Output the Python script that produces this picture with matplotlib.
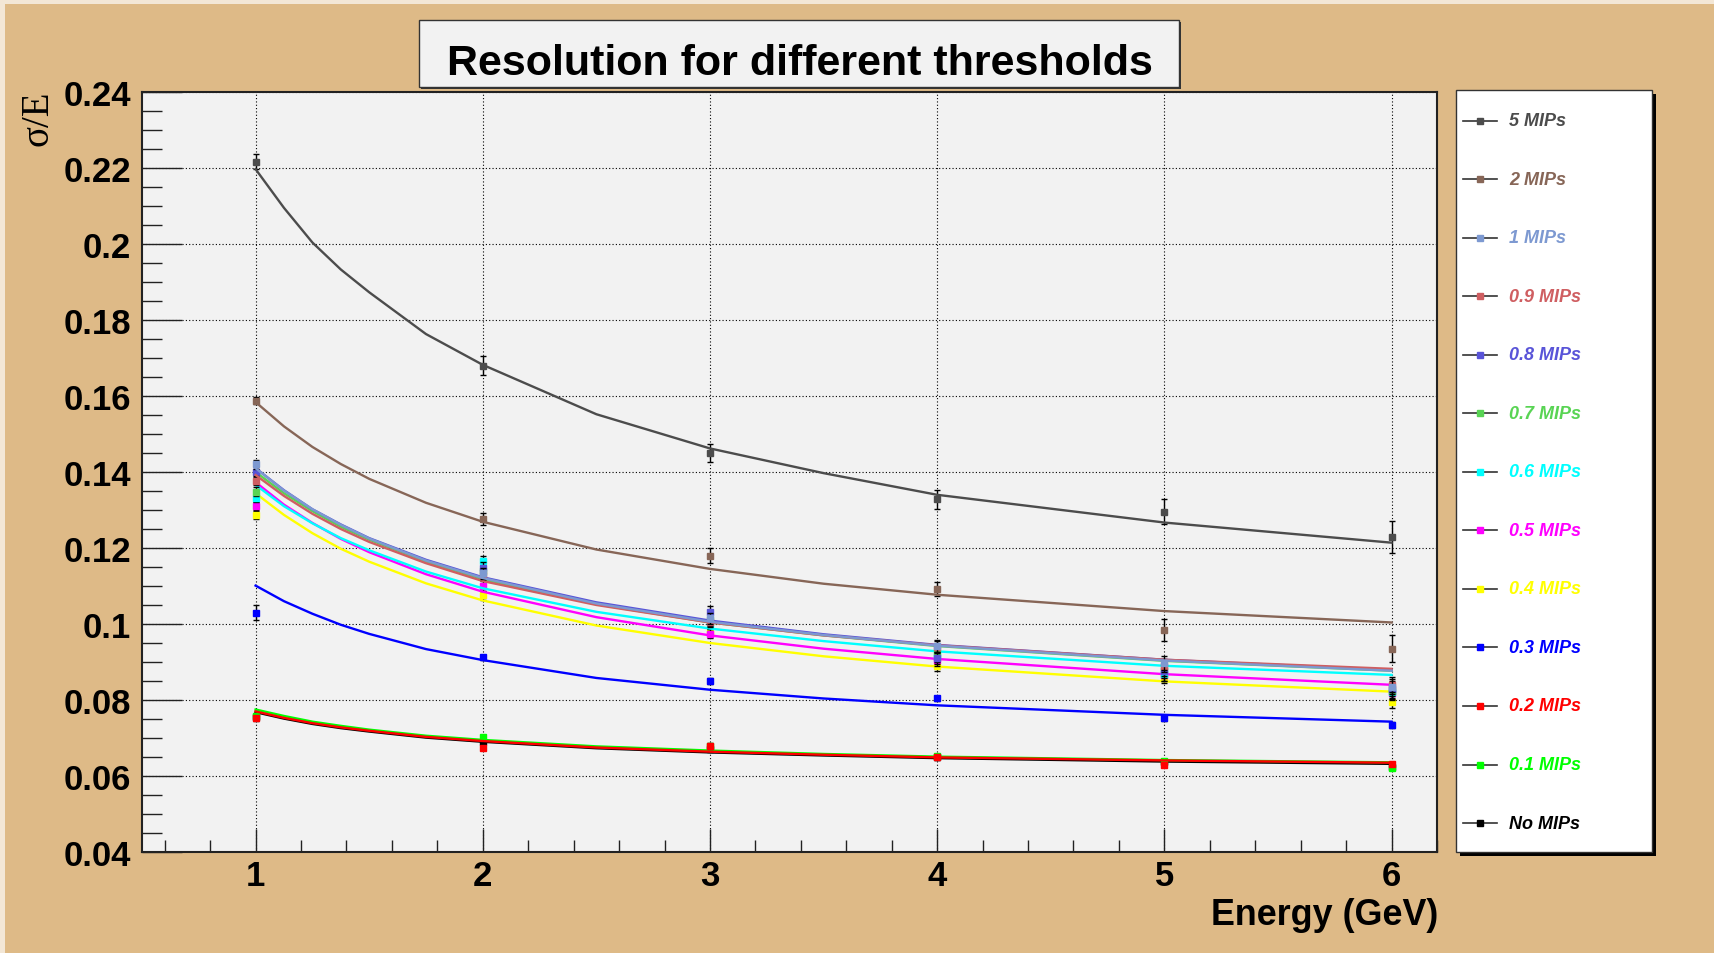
import matplotlib
matplotlib.use("Agg")
import matplotlib.pyplot as plt
from matplotlib.lines import Line2D
from matplotlib.patches import Rectangle
from matplotlib.ticker import MultipleLocator, FuncFormatter

plt.rcParams['font.family'] = ['Liberation Sans', 'DejaVu Sans']
plt.rcParams['font.weight'] = 'bold'

# beam energies (GeV) of the measured points
energy = [1, 2, 3, 4, 5, 6]
fit_e = [1.0, 1.125, 1.25, 1.375, 1.5, 1.75, 2.0, 2.5, 3.0, 3.5, 4.0, 5.0, 6.0]

# sigma/E per threshold: measured points, errors, fitted curve
sig_5 = [0.2217, 0.1680, 0.1451, 0.1328, 0.1295, 0.1228]
err_5 = [0.0019, 0.0025, 0.0024, 0.0025, 0.0033, 0.0042]
fit_5 = [0.2197, 0.2095, 0.2004, 0.1933, 0.1873, 0.1763, 0.1682, 0.1552, 0.1462, 0.1397, 0.1340, 0.1267, 0.1214]

sig_2 = [0.1588, 0.1276, 0.1180, 0.1092, 0.0984, 0.0935]
err_2 = [0.0010, 0.0016, 0.0020, 0.0019, 0.0030, 0.0035]
fit_2 = [0.1584, 0.1520, 0.1466, 0.1421, 0.1382, 0.1319, 0.1269, 0.1196, 0.1145, 0.1106, 0.1077, 0.1034, 0.1004]

sig_1 = [0.1420, 0.1133, 0.1015, 0.0942, 0.0898, 0.0835]
err_1 = [0.0012, 0.0015, 0.0015, 0.0015, 0.0018, 0.0020]
fit_1 = [0.1410, 0.1351, 0.1302, 0.1261, 0.1225, 0.1167, 0.1121, 0.1054, 0.1006, 0.0971, 0.0943, 0.0904, 0.0877]

sig_09 = [0.1377, 0.1130, 0.1005, 0.0940, 0.0890, 0.0840]
err_09 = [0.0012, 0.0013, 0.0014, 0.0015, 0.0017, 0.0020]
fit_09 = [0.1392, 0.1337, 0.1290, 0.1250, 0.1216, 0.1160, 0.1113, 0.1050, 0.1004, 0.0970, 0.0944, 0.0906, 0.0882]

sig_08 = [0.1400, 0.1148, 0.1032, 0.0910, 0.0877, 0.0830]
err_08 = [0.0012, 0.0014, 0.0015, 0.0016, 0.0018, 0.0020]
fit_08 = [0.1410, 0.1352, 0.1302, 0.1262, 0.1226, 0.1169, 0.1123, 0.1057, 0.1009, 0.0973, 0.0945, 0.0906, 0.0879]

sig_07 = [0.1348, 0.1140, 0.1010, 0.0925, 0.0880, 0.0825]
err_07 = [0.0012, 0.0013, 0.0014, 0.0015, 0.0017, 0.0019]
fit_07 = [0.1400, 0.1344, 0.1297, 0.1256, 0.1222, 0.1165, 0.1118, 0.1052, 0.1004, 0.0970, 0.0942, 0.0903, 0.0877]

sig_06 = [0.1331, 0.1166, 0.1000, 0.0915, 0.0868, 0.0822]
err_06 = [0.0011, 0.0013, 0.0014, 0.0015, 0.0017, 0.0019]
fit_06 = [0.1366, 0.1310, 0.1265, 0.1226, 0.1194, 0.1138, 0.1094, 0.1032, 0.0988, 0.0955, 0.0928, 0.0890, 0.0866]

sig_05 = [0.1311, 0.1100, 0.0975, 0.0905, 0.0865, 0.0818]
err_05 = [0.0011, 0.0013, 0.0013, 0.0015, 0.0016, 0.0018]
fit_05 = [0.1373, 0.1314, 0.1266, 0.1224, 0.1189, 0.1131, 0.1085, 0.1018, 0.0970, 0.0935, 0.0908, 0.0868, 0.0840]

sig_04 = [0.1287, 0.1076, 0.0980, 0.0890, 0.0860, 0.0796]
err_04 = [0.0011, 0.0012, 0.0013, 0.0014, 0.0016, 0.0018]
fit_04 = [0.1344, 0.1287, 0.1239, 0.1198, 0.1164, 0.1107, 0.1062, 0.0996, 0.0950, 0.0915, 0.0888, 0.0849, 0.0822]

sig_03 = [0.1030, 0.0912, 0.0850, 0.0804, 0.0752, 0.0734]
err_03 = [0.0020, 0.0006, 0.0007, 0.0007, 0.0008, 0.0008]
fit_03 = [0.1101, 0.1060, 0.1027, 0.0998, 0.0974, 0.0934, 0.0905, 0.0858, 0.0827, 0.0804, 0.0786, 0.0761, 0.0743]

sig_02 = [0.0752, 0.0675, 0.0678, 0.0649, 0.0629, 0.0632]
err_02 = [0.0006, 0.0006, 0.0006, 0.0006, 0.0006, 0.0006]
fit_02 = [0.0770, 0.0753, 0.0739, 0.0728, 0.0719, 0.0703, 0.0692, 0.0675, 0.0664, 0.0656, 0.0649, 0.0641, 0.0635]

sig_01 = [0.0758, 0.0703, 0.0680, 0.0652, 0.0640, 0.0622]
err_01 = [0.0006, 0.0006, 0.0006, 0.0006, 0.0006, 0.0006]
fit_01 = [0.0775, 0.0758, 0.0743, 0.0732, 0.0722, 0.0706, 0.0695, 0.0678, 0.0667, 0.0658, 0.0651, 0.0642, 0.0636]

sig_0 = [0.0755, 0.0690, 0.0672, 0.0650, 0.0636, 0.0625]
err_0 = [0.0006, 0.0006, 0.0006, 0.0006, 0.0006, 0.0006]
fit_0 = [0.0768, 0.0751, 0.0737, 0.0726, 0.0717, 0.0701, 0.0690, 0.0673, 0.0662, 0.0654, 0.0647, 0.0638, 0.0632]

labels = ["5 MIPs", "2 MIPs", "1 MIPs", "0.9 MIPs", "0.8 MIPs", "0.7 MIPs", "0.6 MIPs",
          "0.5 MIPs", "0.4 MIPs", "0.3 MIPs", "0.2 MIPs", "0.1 MIPs", "No MIPs"]
colors = ["#4c4c4c", "#876657", "#7d99d1", "#cf5e61", "#5954d8", "#59d454", "#00ffff",
          "#ff00ff", "#ffff00", "#0000ff", "#ff0000", "#00ff00", "#000000"]
points = [sig_5, sig_2, sig_1, sig_09, sig_08, sig_07, sig_06, sig_05, sig_04, sig_03, sig_02, sig_01, sig_0]
errors = [err_5, err_2, err_1, err_09, err_08, err_07, err_06, err_05, err_04, err_03, err_02, err_01, err_0]
fits = [fit_5, fit_2, fit_1, fit_09, fit_08, fit_07, fit_06, fit_05, fit_04, fit_03, fit_02, fit_01, fit_0]

W, H = 1715, 954
TAN = "#deba87"


def fx(px):
    return px / W


def fy(py):
    return 1 - py / H


def box(x0, y0, x1, y1, **kw):
    return Rectangle((fx(x0), fy(y1)), fx(x1) - fx(x0), fy(y0) - fy(y1),
                     transform=fig.transFigure, **kw)


fig = plt.figure(figsize=(W / 100, H / 100), dpi=100, facecolor=TAN)

# light bevel on the canvas edge
fig.add_artist(box(0, 0, W, 5, facecolor="#f3e7d6", edgecolor="none"))
fig.add_artist(box(0, 0, 5, H, facecolor="#f3e7d6", edgecolor="none"))

ax = fig.add_axes([fx(142), fy(853), fx(1437) - fx(142), fy(93) - fy(853)])
ax.set_facecolor("#f2f2f2")

# draw bottom entries first so the upper ones end up on top
z = 3
for lab, col, sig, err, fit in reversed(list(zip(labels, colors, points, errors, fits))):
    ax.errorbar(energy, sig, yerr=err, fmt="s", ms=4, color=col, mec=col, ecolor="black",
                elinewidth=1, capsize=2.5, capthick=1, zorder=z)
    ax.plot(fit_e, fit, color=col, lw=1.7, zorder=z + 0.5)
    z += 1

ax.set_xlim(0.5, 6.2)
ax.set_ylim(0.04, 0.24)
ax.xaxis.set_major_locator(MultipleLocator(1))
ax.xaxis.set_minor_locator(MultipleLocator(0.2))
ax.yaxis.set_major_locator(MultipleLocator(0.02))
ax.yaxis.set_minor_locator(MultipleLocator(0.005))
ax.yaxis.set_major_formatter(FuncFormatter(lambda v, p: f"{v:.2f}".rstrip("0")))
ax.xaxis.set_major_formatter(FuncFormatter(lambda v, p: f"{v:.0f}"))

ax.tick_params(which="both", direction="in", top=False, right=False, color="#222222", width=1)
ax.tick_params(axis="y", which="major", length=29, labelsize=25, pad=8)
ax.tick_params(axis="y", which="minor", length=14.5)
ax.tick_params(axis="x", which="major", length=16.5, labelsize=25, pad=5)
ax.tick_params(axis="x", which="minor", length=8.6)

ax.set_axisbelow(True)
ax.grid(which="major", color="black", linestyle=(0, (1, 2)), linewidth=0.8)
for s in ax.spines.values():
    s.set_color("#222222")
    s.set_linewidth(1.5)

fig.text(fx(1438), fy(925), "Energy (GeV)", ha="right", va="baseline", fontsize=25.8)
fig.text(fx(38), fy(91), "σ/E", rotation=90, ha="center", va="top", fontsize=28,
         family=["Liberation Serif", "DejaVu Serif"], fontweight="normal")

# title box
fig.add_artist(box(421, 23, 1181, 90, facecolor="#333333", edgecolor="none"))
fig.add_artist(box(419, 21, 1179, 88, facecolor="#f2f2f2", edgecolor="#333333", lw=1))
fig.text(fx(800), fy(75), "Resolution for different thresholds", ha="center", va="baseline",
         fontsize=31)

# legend box
fig.add_artist(box(1460, 95, 1656, 857, facecolor="black", edgecolor="none"))
fig.add_artist(box(1456, 91, 1652, 853, facecolor="white", edgecolor="#333333", lw=1))
for i, (lab, col) in enumerate(zip(labels, colors)):
    y = 121.5 + i * 58.55
    fig.add_artist(Line2D([fx(1463), fx(1497)], [fy(y), fy(y)], color="#333333", lw=1.2,
                          transform=fig.transFigure))
    fig.add_artist(Line2D([fx(1480)], [fy(y)], marker="s", ms=4, color=col, mec=col,
                          transform=fig.transFigure))
    fig.text(fx(1509), fy(y), lab, color=col, fontsize=13, style="italic", va="center")

fig.savefig("out.png", dpi=100, facecolor=TAN)
